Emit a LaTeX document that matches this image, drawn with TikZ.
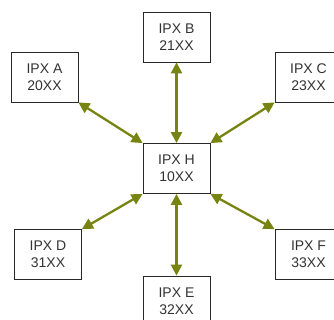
\documentclass[tikz,border=0pt]{standalone}
\usepackage{fontspec}
\setmainfont{Liberation Sans}
\usetikzlibrary{arrows.meta}
\definecolor{linkolive}{RGB}{120,132,18}
\definecolor{boxedge}{RGB}{40,40,40}
\tikzset{
  ipx/.style={draw=boxedge, line width=0.8pt, fill=white, minimum width=67pt,
    minimum height=50pt, inner sep=0pt, align=center,
    font=\fontsize{14}{17}\selectfont, text=black!80},
  link/.style={linkolive, line width=2.3pt,
    {Triangle[length=11pt,width=11pt]}-{Triangle[length=11pt,width=11pt]}}
}
\begin{document}
\begin{tikzpicture}[x=1pt,y=-1pt]
  \useasboundingbox (0,0) rectangle (334,320);
  \clip (0,0) rectangle (334,320);
  \fill[white] (0,0) rectangle (334,320);
  % hub and the six offices around it
  \node[ipx] (H) at (176.5,168.5) {IPX H\\10XX};
  \node[ipx] (B) at (176.5,37)    {IPX B\\21XX};
  \node[ipx] (A) at (44.5,77)     {IPX A\\20XX};
  \node[ipx] (C) at (308.5,77)    {IPX C\\23XX};
  \node[ipx] (D) at (48,254.5)    {IPX D\\31XX};
  \node[ipx] (E) at (176.5,301)   {IPX E\\32XX};
  \node[ipx] (F) at (308.5,254.5) {IPX F\\33XX};
  % two-way links to the hub
  \draw[link] (A.south east) -- (H.north west);
  \draw[link] (B.south) -- (H.north);
  \draw[link] (C.south west) -- (H.north east);
  \draw[link] (D.north east) -- (H.south west);
  \draw[link] (E.north) -- (H.south);
  \draw[link] (F.north west) -- (H.south east);
\end{tikzpicture}
\end{document}
